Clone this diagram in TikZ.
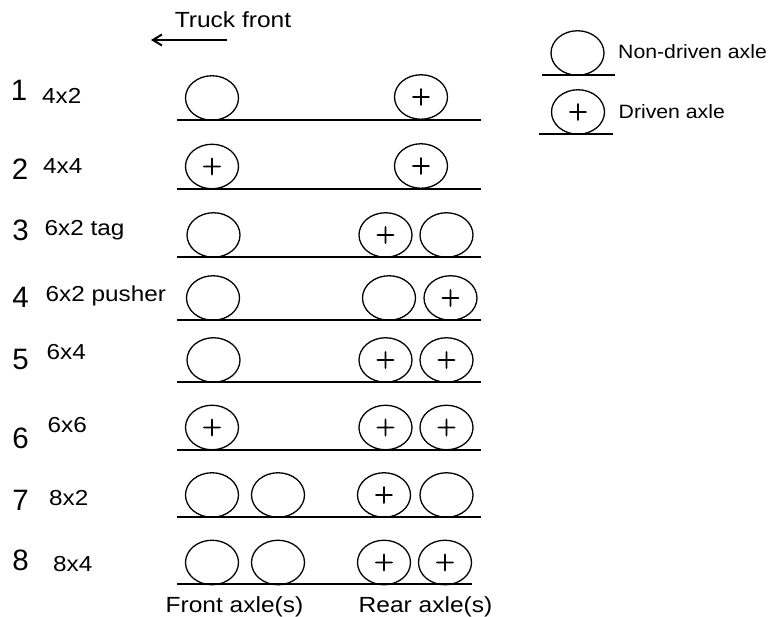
\documentclass[tikz,border=0pt]{standalone}
\usepackage{fontspec}
\setmainfont{Liberation Sans}
\newfontfamily\plusfont[FakeBold=2.5]{Latin Modern Roman}
\newfontfamily\widefont[FakeStretch=1.12]{Liberation Sans}
\newfontfamily\legfont[FakeStretch=1.1]{Liberation Sans}
\usetikzlibrary{arrows.meta,shapes.geometric}
\tikzset{
 px/.style={x=1pt,y=-1pt},
 axle/.style={draw=black,line width=1.3pt,ellipse,minimum width=53pt,minimum height=44.5pt,inner sep=0pt,font=\plusfont\fontsize{27}{27}\selectfont},
 ground/.style={draw=black,line width=1.3pt},
 lbl/.style={inner sep=0pt,anchor=base west,font=\widefont\fontsize{21.7}{24}\selectfont,text=black},
 cap24/.style={inner sep=0pt,anchor=base,font=\widefont\fontsize{21.9}{24}\selectfont,text=black},
 leg/.style={inner sep=0pt,anchor=base west,font=\legfont\fontsize{19.3}{22}\selectfont,text=black},
 num/.style={inner sep=0pt,font=\fontsize{29.5}{32}\selectfont,text=black},
}
\newcommand{\ax}[4]{\node[axle] (#1) at (#2,#3) {#4};}
\begin{document}
\begin{tikzpicture}[px]
\useasboundingbox (0,0) rectangle (779,617);
\fill[white] (0,0) rectangle (779,617);
% header
\node[cap24] (tf) at (233,28) {Truck front};
\coordinate (aS) at (227,40); \coordinate (aE) at (151,40);
\draw[line width=2pt,-{Straight Barb[length=9pt,width=11pt]}] (aS) -- (aE);
% legend
\ax{l1}{577.5}{53}{}
\ax{l2}{578}{112}{+}
\coordinate (la) at (542,75); \coordinate (lb) at (615,75);
\coordinate (lc) at (539,134); \coordinate (ld) at (613,134);
\draw[ground] (la)--(lb); \draw[ground] (lc)--(ld);
\node[leg] (lt1) at (618,58.5) {Non-driven axle};
\node[leg] (lt2) at (618.5,119) {Driven axle};
% rows
\node[num] (n1) at (19,90) {1}; \node[lbl] (t1) at (42,104) {4x2};
\ax{a1}{212}{98}{} \ax{b1}{421}{97}{+}
\coordinate (g1a) at (177,120); \coordinate (g1b) at (481,120); \draw[ground] (g1a)--(g1b);
\node[num] (n2) at (20,169) {2}; \node[lbl] (t2) at (43,173.5) {4x4};
\ax{a2}{212}{166.5}{+} \ax{b2}{421}{166}{+}
\coordinate (g2a) at (177,189); \coordinate (g2b) at (481,189); \draw[ground] (g2a)--(g2b);
\node[num] (n3) at (20.5,230) {3}; \node[lbl] (t3) at (44.5,236) {6x2 tag};
\ax{a3}{213.5}{235}{} \ax{b3}{385.5}{235}{+} \ax{c3}{446.5}{235}{}
\coordinate (g3a) at (177,257); \coordinate (g3b) at (481,257); \draw[ground] (g3a)--(g3b);
\node[num] (n4) at (20.5,297) {4}; \node[lbl] (t4) at (45.5,301.7) {6x2 pusher};
\ax{a4}{213}{298}{} \ax{b4}{389}{298}{} \ax{c4}{450.5}{298}{+}
\coordinate (g4a) at (177,320); \coordinate (g4b) at (481,320); \draw[ground] (g4a)--(g4b);
\node[num] (n5) at (20.5,359) {5}; \node[lbl] (t5) at (46.5,360) {6x4};
\ax{a5}{213.5}{360}{} \ax{b5}{385.5}{360}{+} \ax{c5}{446.5}{360}{+}
\coordinate (g5a) at (177,382); \coordinate (g5b) at (481,382); \draw[ground] (g5a)--(g5b);
\node[num] (n6) at (20.5,438) {6}; \node[lbl] (t6) at (47.5,432) {6x6};
\ax{a6}{212}{427.5}{+} \ax{b6}{385.5}{427.5}{+} \ax{c6}{446.5}{427.5}{+}
\coordinate (g6a) at (177,450); \coordinate (g6b) at (481,450); \draw[ground] (g6a)--(g6b);
\node[num] (n7) at (20.5,500) {7}; \node[lbl] (t7) at (49,505.7) {8x2};
\ax{a7}{212}{495}{} \ax{a7b}{278}{495}{} \ax{b7}{384}{495}{+} \ax{c7}{446.5}{495}{}
\coordinate (g7a) at (177,517); \coordinate (g7b) at (481,517); \draw[ground] (g7a)--(g7b);
\node[num] (n8) at (20.5,560) {8}; \node[lbl] (t8) at (53,571.7) {8x4};
\ax{a8}{212}{562.5}{} \ax{a8b}{278}{562.5}{} \ax{b8}{384}{562.5}{+} \ax{c8}{445}{562.5}{+}
\coordinate (g8a) at (177,584); \coordinate (g8b) at (472,584); \draw[ground] (g8a)--(g8b);
\node[cap24] (fa) at (234.5,612) {Front axle(s)};
\node[cap24] (ra) at (425.5,612) {Rear axle(s)};
\end{tikzpicture}
\end{document}
